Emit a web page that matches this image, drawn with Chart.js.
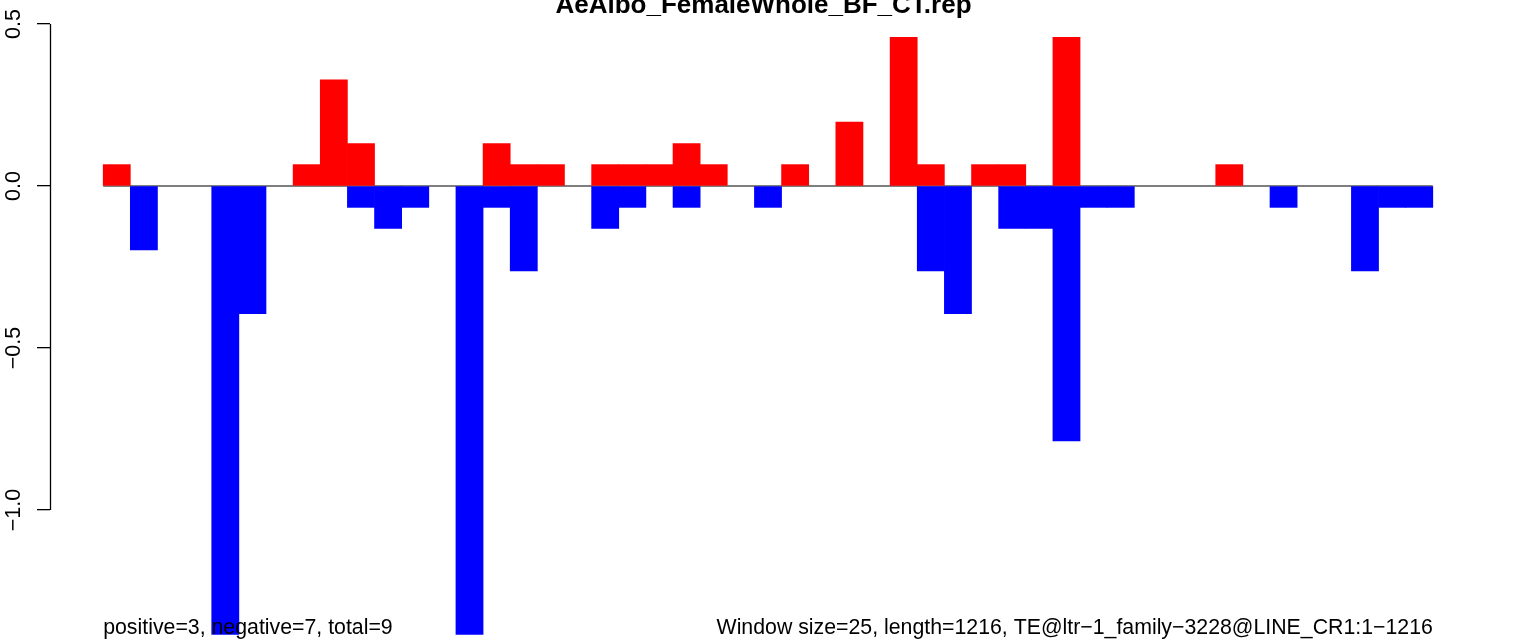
<!DOCTYPE html>
<html>
<head>
<meta charset="utf-8">
<script src="https://cdn.jsdelivr.net/npm/chart.js@4/dist/chart.umd.min.js"></script>
<style>
  html, body { margin: 0; padding: 0; background: #ffffff; }
  #wrap { width: 1536px; height: 639px; position: relative; overflow: hidden; }
</style>
</head>
<body>
<div id="wrap"><canvas id="c" width="1536" height="639"></canvas></div>
<script>
// ---- data ----
const chartTitle = "AeAlbo_FemaleWhole_BF_CT.rep";
const leftNote = "positive=3, negative=7, total=9";
const rightNote = "Window size=25, length=1216, TE@ltr\u22121_family\u22123228@LINE_CR1:1\u22121216";

// window index (1..49)
const windows = [1,2,3,4,5,6,7,8,9,10,11,12,13,14,15,16,17,18,19,20,21,22,23,24,25,
                 26,27,28,29,30,31,32,33,34,35,36,37,38,39,40,41,42,43,44,45,46,47,48,49];

// positive (red) values per window
const positiveValues = [0.066,0,0,0,0,0,0,0.066,0.328,0.131,
                        0,0,0,0,0.131,0.066,0.066,0,0.066,0.066,
                        0.066,0.131,0.066,0,0,0.066,0,0.197,0,0.459,
                        0.066,0,0.066,0.066,0,0.459,0,0,0,0,
                        0,0.066,0,0,0,0,0,0,0];

// negative (blue) values per window
const negativeValues = [0,-0.197,0,0,-1.384,-0.394,0,0,0,-0.066,
                        -0.131,-0.066,0,-1.384,-0.066,-0.262,0,0,-0.131,-0.066,
                        0,-0.066,0,0,-0.066,0,0,0,0,0,
                        -0.262,-0.394,0,-0.131,-0.131,-0.787,-0.066,-0.066,0,0,
                        0,0,0,-0.066,0,0,-0.262,-0.066,-0.066];

const yTicks = [-1.0, -0.5, 0.0, 0.5];
const yTickLabels = ["\u22121.0", "\u22120.5", "0.0", "0.5"];

// ---- build ----
// empty windows (value 0) draw no bar
const toPoints = vals => vals.map((v, i) => ({ x: windows[i] - 0.5, y: v === 0 ? null : v }));
const nWin = windows.length;
const pad = nWin * 0.04;

const FONT = '"Liberation Sans", Arial, Helvetica, sans-serif';

const decor = {
  id: 'decor',
  afterDatasetsDraw(chart) {
    const ctx = chart.ctx;
    const xs = chart.scales.x, ys = chart.scales.y;
    ctx.save();
    // y axis line (R style: only spans first to last tick)
    ctx.strokeStyle = '#000';
    ctx.lineWidth = 1.3;
    const ax = Math.round(chart.chartArea.left) + 0.5;
    ctx.beginPath();
    ctx.moveTo(ax, ys.getPixelForValue(yTicks[yTicks.length - 1]));
    ctx.lineTo(ax, ys.getPixelForValue(yTicks[0]));
    ctx.stroke();
    // title
    ctx.fillStyle = '#000';
    ctx.font = 'bold 26px ' + FONT;
    ctx.textAlign = 'center';
    ctx.textBaseline = 'alphabetic';
    ctx.fillText(chartTitle, 763.5, 13);
    // notes
    ctx.font = '21.3px ' + FONT;
    ctx.textAlign = 'left';
    ctx.fillText(leftNote, xs.getPixelForValue(0), 634);
    ctx.textAlign = 'right';
    ctx.fillText(rightNote, xs.getPixelForValue(nWin), 634);
    ctx.restore();
  }
};

new Chart(document.getElementById('c'), {
  type: 'bar',
  data: {
    datasets: [
      {
        type: 'line',
        data: [{ x: 0, y: 0 }, { x: nWin, y: 0 }],
        borderColor: '#555555',
        borderWidth: 1.4,
        pointRadius: 0,
        order: 3
      },
      {
        label: 'positive',
        data: toPoints(positiveValues),
        backgroundColor: '#ff0000',
        borderWidth: 0,
        barPercentage: 1,
        categoryPercentage: 1,
        grouped: false,
        order: 2
      },
      {
        label: 'negative',
        data: toPoints(negativeValues),
        backgroundColor: '#0000ff',
        borderWidth: 0,
        barPercentage: 1,
        categoryPercentage: 1,
        grouped: false,
        order: 1
      }
    ]
  },
  options: {
    responsive: false,
    animation: false,
    events: [],
    layout: { padding: { left: 0, right: 50, top: 0, bottom: 0 } },
    plugins: { legend: { display: false }, tooltip: { enabled: false }, title: { display: false } },
    scales: {
      x: {
        type: 'linear',
        display: false,
        min: -pad,
        max: nWin + pad,
        offset: false,
        afterBuildTicks: s => { s.ticks = [{ value: 0 }, { value: nWin }]; }
      },
      y: {
        type: 'linear',
        position: 'left',
        min: -453 / 324,
        max: 186 / 324,
        afterBuildTicks: s => { s.ticks = yTicks.map(v => ({ value: v })); },
        afterFit: s => { s.width = 50; s.paddingTop = 0; s.paddingBottom = 0; },
        border: { display: false },
        grid: { drawOnChartArea: false, drawTicks: true, tickLength: 13, color: '#000', lineWidth: 1.3 },
        ticks: {
          minRotation: 90,
          maxRotation: 90,
          crossAlign: 'center',
          padding: 2,
          color: '#000',
          font: { family: FONT, size: 21.5 },
          callback: (v, i) => yTickLabels[i]
        }
      }
    }
  },
  plugins: [decor]
});
</script>
</body>
</html>
